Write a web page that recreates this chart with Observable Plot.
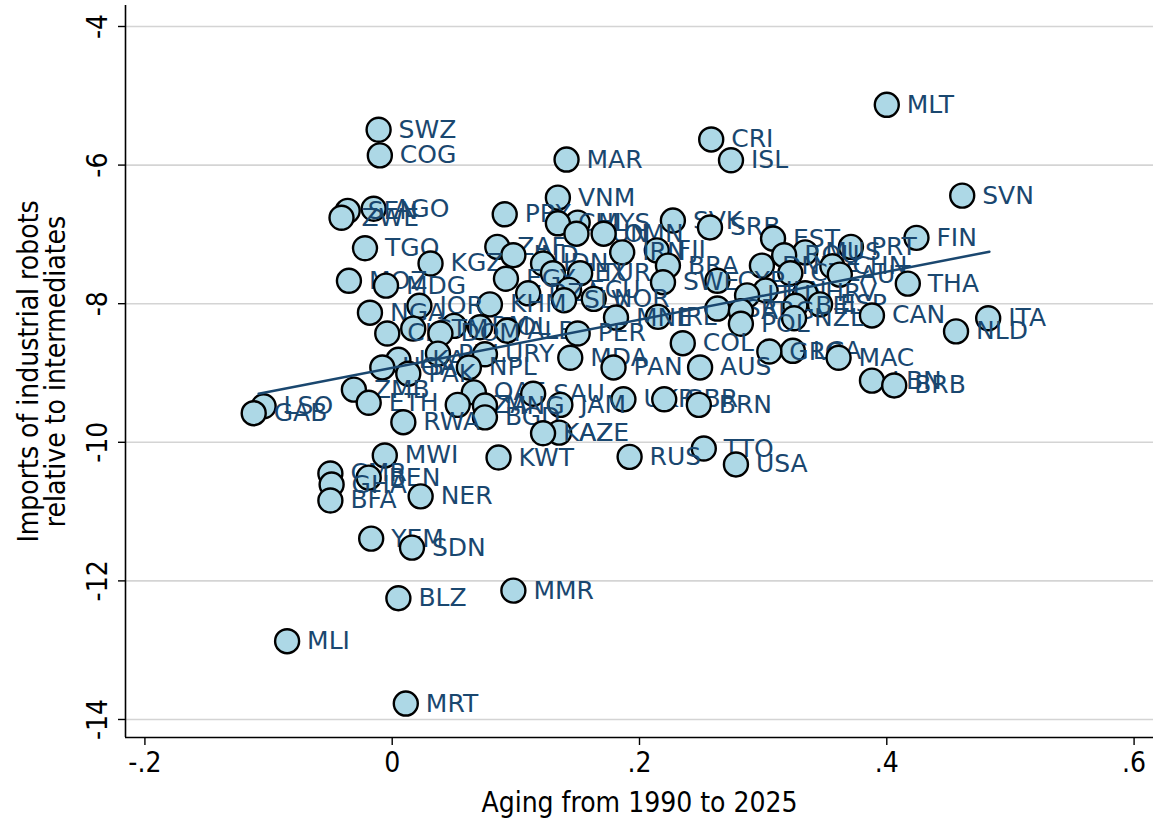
<!DOCTYPE html>
<html><head><meta charset="utf-8">
<script src="https://cdn.jsdelivr.net/npm/d3@7"></script>
<script src="https://cdn.jsdelivr.net/npm/@observablehq/plot@0.6"></script>
<style>
body{margin:0;background:#fff;}
#chart svg{display:block;}
</style></head><body><div id="chart"></div>
<script>
const countries = ["MLT","SWZ","COG","CRI","ISL","MAR","SVN","VNM","SEN","ZWE","AGO","TGO","KGZ","MOZ","MDG","NGA","JOR","KHM","CIV","GTM","ARM","DOM","PHL","UGA","LKA","PAK","NPL","URY","BOL","ALB","ZMB","ETH","RWA","TZA","QAT","MNG","BGD","GAB","LSO","MWI","CMR","GHA","BFA","BEN","NER","YEM","SDN","BLZ","MLI","MRT","MMR","KWT","RUS","TTO","USA","SAU","JAM","UKR","GBR","BRN","KAZ","AZE","PER","MDA","PAN","COL","AUS","PRY","CHL","MYS","TUN","OMN","IRN","FJI","BRA","SWE","SVK","SRB","ZAF","IND","IDN","EGY","MEX","TUR","DZA","ECU","SLV","NOR","MNE","IRL","EST","ROU","MUS","PRT","DNK","CZE","CHN","AUT","CYP","LTU","JPN","HRV","ESP","BEL","NZL","POL","ARG","ISR","GRC","LCA","CAN","MAC","LBN","BRB","FIN","THA","ITA","NLD"];
const aging = [0.400,-0.011,-0.010,0.258,0.274,0.141,0.461,0.134,-0.036,-0.041,-0.015,-0.022,0.031,-0.035,-0.005,-0.018,0.022,0.079,-0.004,0.017,0.050,0.039,0.037,-0.008,0.005,0.013,0.062,0.075,0.071,0.093,-0.031,-0.019,0.009,0.053,0.066,0.075,0.075,-0.112,-0.104,-0.006,-0.050,-0.049,-0.050,-0.019,0.023,-0.017,0.016,0.005,-0.085,0.011,0.098,0.086,0.192,0.252,0.278,0.114,0.136,0.187,0.220,0.248,0.122,0.135,0.150,0.144,0.179,0.235,0.249,0.091,0.134,0.150,0.149,0.171,0.186,0.214,0.223,0.219,0.227,0.257,0.085,0.098,0.122,0.092,0.130,0.152,0.110,0.143,0.139,0.163,0.181,0.215,0.308,0.317,0.334,0.371,0.299,0.322,0.356,0.362,0.263,0.287,0.302,0.334,0.346,0.326,0.325,0.282,0.282,0.263,0.305,0.324,0.388,0.361,0.388,0.406,0.424,0.417,0.482,0.456];
const robots = [-5.13,-5.49,-5.86,-5.63,-5.93,-5.92,-6.44,-6.47,-6.66,-6.76,-6.63,-7.20,-7.42,-7.67,-7.74,-8.13,-8.03,-8.01,-8.43,-8.36,-8.32,-8.43,-8.72,-8.92,-8.81,-9.01,-8.92,-8.73,-8.34,-8.39,-9.24,-9.43,-9.71,-9.46,-9.28,-9.47,-9.64,-9.58,-9.48,-10.19,-10.45,-10.61,-10.84,-10.51,-10.78,-11.39,-11.52,-12.25,-12.87,-13.77,-12.14,-10.22,-10.21,-10.09,-10.32,-9.30,-9.46,-9.38,-9.38,-9.46,-9.87,-9.86,-8.43,-8.78,-8.92,-8.57,-8.92,-6.71,-6.84,-6.83,-6.99,-6.99,-7.26,-7.23,-7.45,-7.69,-6.80,-6.90,-7.18,-7.30,-7.42,-7.64,-7.56,-7.56,-7.85,-7.80,-7.95,-7.93,-8.20,-8.19,-7.06,-7.30,-7.26,-7.18,-7.45,-7.56,-7.46,-7.58,-7.67,-7.88,-7.81,-7.85,-8.01,-8.03,-8.21,-8.29,-8.11,-8.07,-8.69,-8.68,-8.17,-8.78,-9.11,-9.18,-7.05,-7.71,-8.21,-8.40];

// fitted line (linear fit) end points
const fitAging = [-0.108, 0.483];
const fitRobots = [-9.30, -7.25];

const xTicks = [-0.2, 0, 0.2, 0.4, 0.6];
const xTickLabels = ["-.2", "0", ".2", ".4", ".6"];
const yTicks = [-14, -12, -10, -8, -6, -4];
const yTickLabels = ["-14", "-12", "-10", "-8", "-6", "-4"];
const xTitle = "Aging from 1990 to 2025";
const yTitle = "Imports of industrial robots\nrelative to intermediates";

const xDomain = [-0.2157, 0.6157];
const yDomain = [-14.26, -3.697];

const points = countries.map((c, i) => ({code: c, x: aging[i], y: robots[i]}));
const drawOrder = d3.sort(points, d => -d.y);
const fit = fitAging.map((x, i) => ({x, y: fitRobots[i]}));
const yLab = yTicks.map((v, i) => ({v, t: yTickLabels[i]}));

const axisFont = "'DejaVu Sans Condensed', sans-serif";
const labelFont = "'DejaVu Sans', sans-serif";
const navy = "#1a476f";

const pointMarks = drawOrder.flatMap(d => [
  Plot.dot([d], {x: "x", y: "y", r: 12, fill: "#add8e6", stroke: "black", strokeWidth: 2.4}),
  Plot.text([d], {x: "x", y: "y", text: "code", dx: 20, textAnchor: "start", lineAnchor: "middle",
    fill: navy, fontSize: 25, fontFamily: labelFont})
]);

const chart = Plot.plot({
  width: 1156,
  height: 822,
  marginLeft: 125,
  marginRight: 3,
  marginTop: 5,
  marginBottom: 85,
  style: {fontFamily: axisFont, background: "white"},
  x: {domain: xDomain, axis: null},
  y: {domain: yDomain, axis: null},
  marks: [
    Plot.gridY(yTicks, {stroke: "#d4d4d4", strokeOpacity: 1, strokeWidth: 1.6}),
    Plot.axisX(xTicks, {tickSize: 8, tickPadding: 7, fontSize: 28, fontFamily: axisFont, stroke: "black", strokeWidth: 1.4,
      tickFormat: (d, i) => xTickLabels[i], label: null, fill: "black"}),
    Plot.axisY(yTicks, {tickSize: 7, tickFormat: () => "", label: null, stroke: "black", strokeWidth: 1.4}),
    Plot.text(yLab, {x: () => xDomain[0], y: "v", text: "t", rotate: -90, textAnchor: "middle",
      lineAnchor: "bottom", dx: -19, fontSize: 28, fontFamily: axisFont, fill: "black"}),
    Plot.ruleX([xDomain[0]], {stroke: "black", strokeWidth: 1.6}),
    Plot.ruleY([yDomain[0]], {stroke: "black", strokeWidth: 1.6}),
    ...pointMarks,
    Plot.line(fit, {x: "x", y: "y", stroke: navy, strokeWidth: 2.5}),
    Plot.text([xTitle], {frameAnchor: "bottom", text: d => d, dy: 66, lineAnchor: "middle", fontSize: 28, fontFamily: axisFont, fill: "black"}),
    Plot.text([yTitle], {frameAnchor: "left", text: d => d, rotate: -90, dx: -83, lineAnchor: "middle",
      textAnchor: "middle", fontSize: 28, fontFamily: axisFont, fill: "black", lineHeight: 0.97})
  ]
});
document.getElementById("chart").appendChild(chart);
</script>
</body></html>
